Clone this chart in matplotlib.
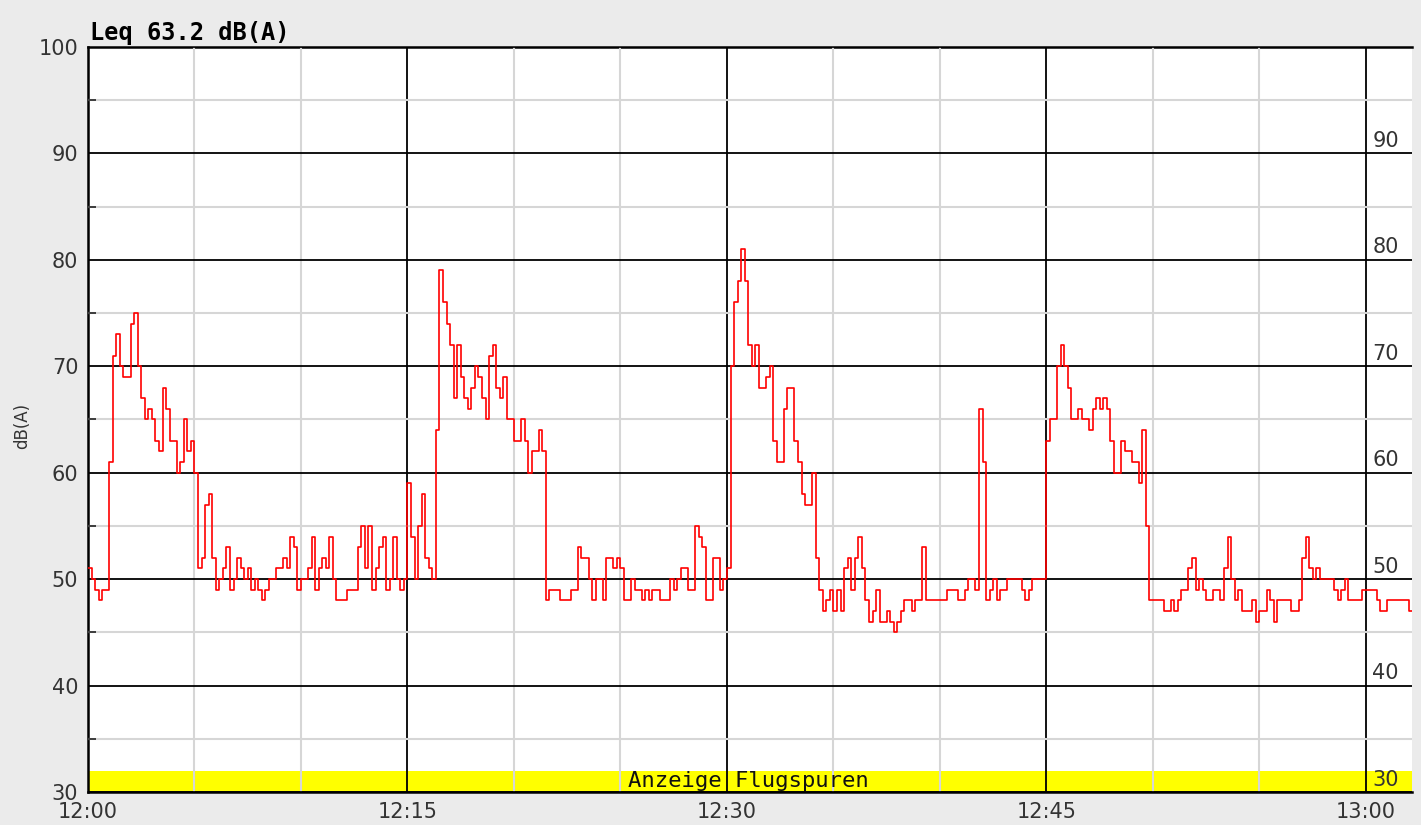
import numpy as np
import matplotlib
matplotlib.use("Agg")
import matplotlib.pyplot as plt
from matplotlib.ticker import MultipleLocator

# Data: A-weighted level, one reading every 10 s starting 12:00:00
SAMPLE_SEC = 10
level_db = [
    51, 50, 49, 48, 49, 49, 61, 71, 73, 70, 69, 69, 74, 75, 70, 67, 65, 66, 65, 63,
    62, 68, 66, 63, 63, 60, 61, 65, 62, 63, 60, 51, 52, 57, 58, 52, 49, 50,
    51, 53, 49, 50, 52, 51, 50, 51, 49, 50, 49, 48, 49, 50, 50, 51, 51, 52, 51, 54,
    53, 49, 50, 50, 51, 54, 49, 51, 52, 51, 54, 50, 48, 48, 48, 49, 49, 49,
    53, 55, 51, 55, 49, 51, 53, 54, 49, 50, 54, 50, 49, 50, 59, 54, 50, 55, 58, 52,
    51, 50, 64, 79, 76, 74, 72, 67, 72, 69, 67, 66, 68, 70, 69, 67, 65,
    71, 72, 68, 67, 69, 65, 65, 63, 63, 65, 63, 60, 62, 62, 64, 62, 48, 49, 49, 49,
    48, 48, 48, 49, 49, 53, 52, 52, 50, 48, 50, 50, 48, 52, 52, 51, 52,
    51, 48, 48, 50, 49, 49, 48, 49, 48, 49, 49, 48, 48, 48, 50, 49, 50, 51, 51, 49,
    49, 55, 54, 53, 48, 48, 52, 52, 49, 50, 51, 70, 76, 78, 81, 78, 72,
    70, 72, 68, 68, 69, 70, 63, 61, 61, 66, 68, 68, 63, 61, 58, 57, 57, 60, 52, 49,
    47, 48, 49, 47, 49, 47, 51, 52, 49, 52, 54, 51, 48, 46, 47, 49, 46,
    46, 47, 46, 45, 46, 47, 48, 48, 47, 48, 48, 53, 48, 48, 48, 48, 48, 48, 49, 49,
    49, 48, 48, 49, 50, 50, 49, 66, 61, 48, 49, 50, 48, 49, 49, 50, 50,
    50, 50, 49, 48, 49, 50, 50, 50, 50, 63, 65, 65, 70, 72, 70, 68, 65, 65, 66, 65,
    65, 64, 66, 67, 66, 67, 66, 63, 60, 60, 63, 62, 62, 61, 61, 59, 64, 55,
    48, 48, 48, 48, 47, 47, 48, 47, 48, 49, 49, 51, 52, 49, 50, 49, 48, 48, 49, 49,
    48, 51, 54, 50, 48, 49, 47, 47, 47, 48, 46, 47, 47, 49, 48, 46, 48,
    48, 48, 48, 47, 47, 48, 52, 54, 51, 50, 51, 50, 50, 50, 50, 49, 48, 49, 50, 48,
    48, 48, 48, 49, 49, 49, 49, 48, 47, 47, 48, 48, 48, 48, 48, 48, 47, 47,
]
time_ticks = [0, 15, 30, 45, 60]
time_labels = ["12:00", "12:15", "12:30", "12:45", "13:00"]
right_levels = [30, 40, 50, 60, 70, 80, 90]
leq_text = "Leq 63.2 dB(A)"
band_text = "Anzeige Flugspuren"

minutes = np.arange(len(level_db)) * SAMPLE_SEC / 60.0

W, H = 1421, 825
fig = plt.figure(figsize=(W / 100, H / 100), dpi=100, facecolor="#ebebeb")
ax = fig.add_axes([88 / W, 33 / H, 1324 / W, 745 / H])
ax.set_facecolor("white")

ax.set_xlim(0, 62.16)
ax.set_ylim(30, 100)

# yellow band at the bottom
ax.axhspan(30, 32, color="#ffff00", lw=0, zorder=1)
ax.text(31.0, 31.0, band_text, ha="center", va="center", fontsize=16,
        family="DejaVu Sans Mono", color="#111111", zorder=4)

ax.plot(minutes, level_db, color="#ff0000", lw=1.2, drawstyle="steps-post", zorder=3)

ax.set_xticks(time_ticks)
ax.set_xticklabels(time_labels)
ax.xaxis.set_minor_locator(MultipleLocator(5))
ax.yaxis.set_major_locator(MultipleLocator(10))
ax.yaxis.set_minor_locator(MultipleLocator(5))

ax.set_axisbelow(False)
ax.grid(which="minor", color="#d6d6d6", lw=1.5, zorder=2)
ax.grid(which="major", color="black", lw=1.3, zorder=2.2)

ax.tick_params(axis="both", which="major", length=0, labelsize=15, labelcolor="#333333")
ax.tick_params(axis="x", which="major", pad=7)
ax.tick_params(axis="y", which="major", pad=7)
ax.tick_params(axis="x", which="minor", length=0)
ax.tick_params(axis="y", which="minor", direction="in", length=6, width=1.2, color="#222222")

for side in ["left", "top", "bottom"]:
    ax.spines[side].set_color("black")
    ax.spines[side].set_linewidth(1.8)
ax.spines["right"].set_visible(False)

# labels repeated inside the plot, right of 13:00
for v in right_levels:
    ax.text(60.3, v + 0.6, str(v), ha="left", va="baseline", fontsize=15,
            color="#333333", zorder=4)

fig.text(22 / W, 1 - 426 / H, "dB(A)", rotation=90, ha="center", va="center",
         fontsize=12, color="#333333")
fig.text(90 / W, 1 - 40 / H, leq_text, ha="left", va="baseline", fontsize=17,
         family="DejaVu Sans Mono", weight="bold", color="black")

fig.savefig("out.png", dpi=100, facecolor=fig.get_facecolor())
